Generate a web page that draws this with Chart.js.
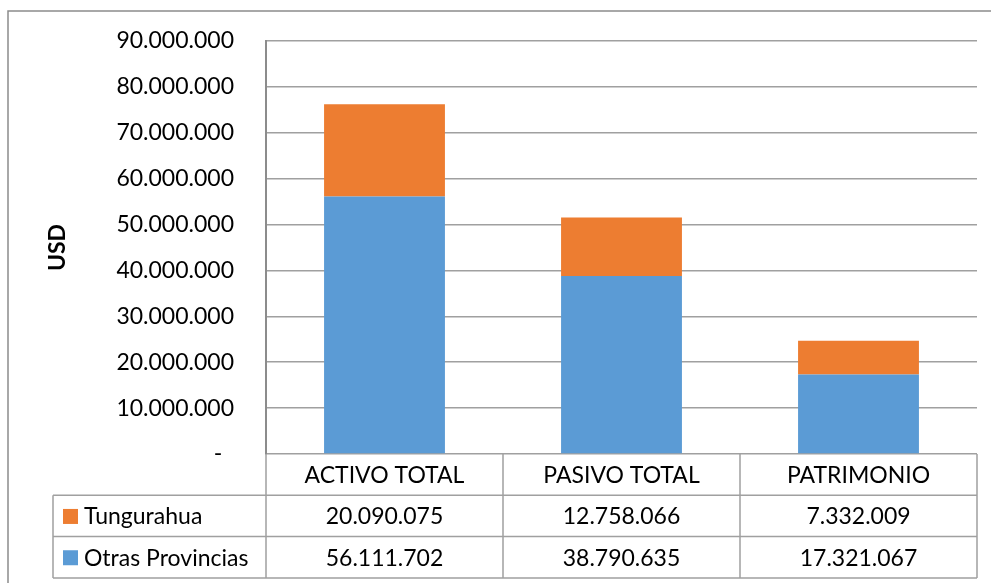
<!DOCTYPE html>
<html>
<head>
<meta charset="utf-8">
<script src="https://cdn.jsdelivr.net/npm/chart.js@4.4.1/dist/chart.umd.min.js"></script>
<style>
  html, body { margin: 0; padding: 0; background: #fff; }
  #wrap { width: 991px; height: 583px; position: relative; }
</style>
</head>
<body>
<div id="wrap"><canvas id="chart"></canvas></div>
<script>
// Data
const categories = ["ACTIVO TOTAL", "PASIVO TOTAL", "PATRIMONIO"];
const seriesNames = ["Tungurahua", "Otras Provincias"];
const tungurahua = [20090075, 12758066, 7332009];
const otrasProvincias = [56111702, 38790635, 17321067];
const yTicks = [0, 10000000, 20000000, 30000000, 40000000, 50000000, 60000000, 70000000, 80000000, 90000000];

const blue = "#5B9BD5";
const orange = "#ED7D31";
const fontFamily = "Lato, 'Open Sans', sans-serif";

function formatNumber(v) {
  if (v === 0) return "-  ";
  return String(v).replace(/\B(?=(\d{3})+(?!\d))/g, ".");
}

// Draws the outer frame and the data table under the plot
const dataTablePlugin = {
  id: "dataTable",
  afterDraw(chart) {
    const ctx = chart.ctx;
    const area = chart.chartArea;
    const xScale = chart.scales.x;
    const rowH = 41.3;
    const top = area.bottom;
    const tableLeft = 53;
    const rows = [
      { name: seriesNames[0], color: orange, values: tungurahua },
      { name: seriesNames[1], color: blue, values: otrasProvincias },
    ];

    ctx.save();
    // outer frame
    ctx.strokeStyle = "#8c8c8c";
    ctx.lineWidth = 1.5;
    ctx.beginPath();
    ctx.moveTo(8, 583);
    ctx.lineTo(8, 11);
    ctx.lineTo(991, 11);
    ctx.stroke();

    // table lines
    ctx.strokeStyle = "#a0a0a0";
    ctx.lineWidth = 1.5;
    ctx.beginPath();
    for (let r = 1; r <= rows.length + 1; r++) {
      const y = top + rowH * r;
      ctx.moveTo(tableLeft, y);
      ctx.lineTo(area.right, y);
    }
    ctx.moveTo(tableLeft, top + rowH);
    ctx.lineTo(tableLeft, top + rowH * 3);
    for (let i = 0; i <= categories.length; i++) {
      const x = xScale.getPixelForValue(i - 0.5);
      ctx.moveTo(x, top);
      ctx.lineTo(x, top + rowH * 3);
    }
    ctx.stroke();

    // header labels
    ctx.fillStyle = "#000";
    ctx.font = "23px " + fontFamily;
    ctx.textAlign = "center";
    ctx.textBaseline = "middle";
    categories.forEach((c, i) => {
      ctx.fillText(c, xScale.getPixelForValue(i), top + rowH / 2 + 1);
    });

    // series rows
    rows.forEach((row, r) => {
      const yMid = top + rowH * (r + 1) + rowH / 2 + 1;
      ctx.fillStyle = row.color;
      ctx.fillRect(63, yMid - 8, 15, 15);
      ctx.fillStyle = "#000";
      ctx.textAlign = "left";
      ctx.fillText(row.name, 84, yMid);
      ctx.textAlign = "center";
      row.values.forEach((v, i) => {
        ctx.fillText(formatNumber(v), xScale.getPixelForValue(i), yMid);
      });
    });
    ctx.restore();
  },
};

new Chart(document.getElementById("chart"), {
  type: "bar",
  data: {
    labels: categories,
    datasets: [
      {
        label: seriesNames[1],
        data: otrasProvincias,
        backgroundColor: blue,
        order: 1,
      },
      {
        label: seriesNames[0],
        data: tungurahua,
        backgroundColor: orange,
        order: 2,
      },
    ],
  },
  options: {
    responsive: true,
    maintainAspectRatio: false,
    animation: false,
    layout: { padding: { left: 0, top: 41, right: 14, bottom: 129 } },
    datasets: {
      bar: { categoryPercentage: 1, barPercentage: 0.51 },
    },
    plugins: {
      legend: { display: false },
      tooltip: { enabled: false },
    },
    scales: {
      x: {
        stacked: true,
        display: false,
      },
      y: {
        stacked: true,
        min: 0,
        max: 90000000,
        afterFit(scale) {
          scale.width = 266;
          scale.paddingTop = 0;
          scale.paddingBottom = 0;
        },
        afterBuildTicks(scale) {
          scale.ticks = yTicks.map((v) => ({ value: v }));
        },
        ticks: {
          color: "#000",
          padding: 32,
          font: { family: fontFamily, size: 23 },
          callback: (v) => formatNumber(v),
        },
        grid: {
          color: "#a0a0a0",
          lineWidth: 1.5,
          drawTicks: false,
        },
        border: { color: "#8c8c8c", width: 2 },
        title: {
          display: true,
          text: "USD",
          color: "#000",
          font: { family: fontFamily, size: 23, weight: "bold" },
          padding: { top: 44, bottom: 0 },
        },
      },
    },
  },
  plugins: [dataTablePlugin],
});
</script>
</body>
</html>
